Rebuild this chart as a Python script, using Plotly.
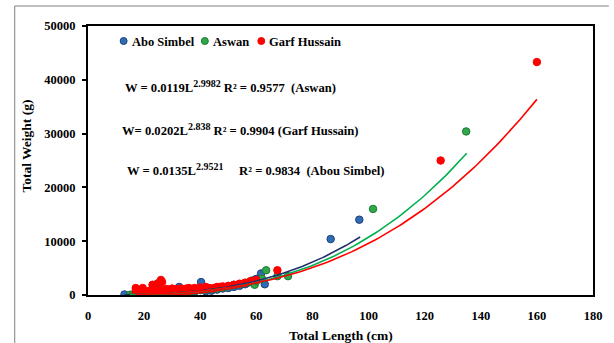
import numpy as np
import plotly.graph_objects as go

# ---------------- data ----------------
abo_len = [13, 16, 18, 20, 22, 24, 25, 26, 28, 30, 32.5, 34, 36, 38, 40.3, 42, 44, 46, 48, 50,
           52, 54, 56, 57, 58.6, 60, 61.7, 63, 86.5, 96.7]
abo_wt = [100, 80, 120, 150, 200, 250, 50, 300, 0, 350, 1500, 50, 500, 600, 2400, 700, 800, 1000, 1200, 1300,
          1500, 1700, 2000, 2300, 2700, 3000, 4000, 2000, 10400, 14000]

asw_len = [15, 16, 17, 18, 19, 20, 21, 22, 23, 24.4, 25, 26, 28, 30, 32, 34, 36, 38, 40, 42,
           44, 46, 48, 50, 52, 54, 56, 58, 59.4, 60, 62, 63.5, 67.5, 71.3, 101.6, 134.8]
asw_wt = [50, 100, 150, 100, 200, 150, 300, 250, 400, 2000, 300, 350, 400, 450, 500, 600, 650, 800, 900, 1000,
          1100, 1200, 1400, 1600, 1900, 2000, 2200, 2400, 1900, 2600, 3000, 4600, 3500, 3500, 16000, 30400]

garf_len = [17, 17, 17.5, 18, 18, 18.5, 19, 19, 19.5, 20, 20, 20.5, 21, 21, 22, 22, 22.5, 23, 23, 23.5,
            24, 24, 24.5, 25, 25, 25.5, 26, 26, 26.4, 27, 27, 28, 28, 29, 29, 30, 30, 31, 31, 32,
            32, 33, 33, 34, 34, 35, 35, 36, 36, 37, 38, 38, 39, 40, 40, 41, 42, 42, 43, 44,
            45, 46, 47, 48, 50, 52, 54, 56, 58, 60, 67.5, 125.7, 160]
garf_wt = [1300, 400, 200, 900, 100, 300, 600, 150, 1300, 200, 700, 300, 500, 100, 800, 250, 400, 1900, 300, 900,
           1600, 500, 200, 2200, 600, 1000, 2800, 700, 2400, 400, 900, 600, 1100, 500, 1000, 700, 1200, 600, 1000, 700,
           1100, 800, 1200, 700, 1100, 900, 1200, 800, 1300, 1000, 900, 1300, 1100, 1000, 1400, 1200, 1100, 1500, 1300, 1200,
           1300, 1500, 1500, 1600, 1700, 1900, 2100, 2300, 2600, 2800, 4600, 25000, 43300]

series_names = ["Abo Simbel", "Aswan", "Garf Hussain"]
fill_colors = ["#2E6DB4", "#2EA84A", "#FF0000"]
edge_colors = ["#1F3F7A", "#1E7A34", "#FF0000"]
line_colors = ["#1F2F6B", "#00B050", "#FF0000"]

# power-law trend lines W = a * L^b (a, b, fitted range) as drawn in the picture
trend_a = [0.0147, 0.0108, 0.0202]
trend_b = [2.9521, 2.9982, 2.838]
trend_from = [13, 15, 17]
trend_to = [97, 135, 160]

x_ticks = [0, 20, 40, 60, 80, 100, 120, 140, 160, 180]
y_ticks = [0, 10000, 20000, 30000, 40000, 50000]

FONT = "Liberation Serif"

fig = go.Figure()

lens = [abo_len, asw_len, garf_len]
wts = [abo_wt, asw_wt, garf_wt]
for i in range(3):
    fig.add_trace(go.Scatter(
        x=lens[i], y=wts[i], mode="markers", name=series_names[i],
        marker=dict(size=7.5, color=fill_colors[i], line=dict(color=edge_colors[i], width=1)),
        showlegend=False))

for i in range(3):
    xs = np.linspace(trend_from[i], trend_to[i], 120)
    ys = trend_a[i] * xs ** trend_b[i]
    fig.add_trace(go.Scatter(x=xs, y=ys, mode="lines", line=dict(color=line_colors[i], width=1.6),
                             showlegend=False, hoverinfo="skip"))

W, H = 614, 343
L_, R_, T_, B_ = 88, 598, 26, 295
def px(x):
    return (x - L_) / (R_ - L_)
def py(y):
    return (B_ - y) / (B_ - T_)

shapes = []
annotations = []
# outer frame (top & left)
shapes.append(dict(type="line", xref="paper", yref="paper", x0=px(14), y0=py(6), x1=px(614), y1=py(6),
                   line=dict(color="#7F7F7F", width=1)))
shapes.append(dict(type="line", xref="paper", yref="paper", x0=px(14), y0=py(6), x1=px(14), y1=py(343),
                   line=dict(color="#7F7F7F", width=1)))

# manual legend
leg_marker_x = [124, 206, 263]
leg_text_x = [130, 212, 269]
for i in range(3):
    cx, cy = leg_marker_x[i], 41
    shapes.append(dict(type="circle", xref="paper", yref="paper",
                       x0=px(cx - 3.5), x1=px(cx + 3.5), y0=py(cy + 3.5), y1=py(cy - 3.5),
                       fillcolor=fill_colors[i], line=dict(color=edge_colors[i], width=1)))
    annotations.append(dict(xref="paper", yref="paper", x=px(leg_text_x[i]), y=py(42), xanchor="left",
                            yanchor="middle", showarrow=False, text="<b>%s</b>" % series_names[i],
                            font=dict(family=FONT, size=12.5, color="black")))

SUP = '<sup><span style="font-size:10px">%s</span></sup>'
eqs = [
    ("<b>W = 0.0119L" + SUP % "2.9982" + " R² = 0.9577  (Aswan)</b>", 123, 86),
    ("<b>W= 0.0202L" + SUP % "2.838" + " R² = 0.9904 (Garf Hussain)</b>", 120, 129),
    ("<b>W = 0.0135L" + SUP % "2.9521" + "     R² = 0.9834  (Abou Simbel)</b>", 125, 169),
]
for t, x0, y0 in eqs:
    annotations.append(dict(xref="paper", yref="paper", x=px(x0), y=py(y0), xanchor="left", yanchor="middle",
                            showarrow=False, text=t, font=dict(family=FONT, size=12.6, color="black")))

# axis titles
annotations.append(dict(xref="paper", yref="paper", x=px(344), y=py(335), xanchor="center", yanchor="middle",
                        showarrow=False, text="<b>Total Length (cm)</b>",
                        font=dict(family=FONT, size=13.5, color="black")))
annotations.append(dict(xref="paper", yref="paper", x=px(25), y=py(146), xanchor="center", yanchor="middle",
                        showarrow=False, text="<b>Total Weight (g)</b>", textangle=-90,
                        font=dict(family=FONT, size=13.5, color="black")))

fig.update_layout(
    width=W, height=H,
    margin=dict(l=L_, r=W - R_, t=T_, b=H - B_),
    paper_bgcolor="white", plot_bgcolor="white",
    shapes=shapes, annotations=annotations,
    font=dict(family=FONT, color="black"),
    xaxis=dict(range=[0, 180], tickvals=x_ticks, ticktext=[str(v) for v in x_ticks],
               showgrid=False, zeroline=False, showline=True, linecolor="black", linewidth=2, mirror=True,
               ticks="", ticklabelstandoff=8, tickfont=dict(family=FONT, size=12.5, color="black", weight="bold")),
    yaxis=dict(range=[0, 50000], tickvals=y_ticks, ticktext=[str(v) for v in y_ticks],
               showgrid=False, zeroline=False, showline=True, linecolor="black", linewidth=2, mirror=True,
               ticks="outside", ticklen=4, tickwidth=1.5, tickcolor="black", ticklabelstandoff=4,
               tickfont=dict(family=FONT, size=12.5, color="black", weight="bold")),
)

fig.write_html("out.html", config={"displayModeBar": False},
               post_script="document.body.style.margin='0';document.body.style.overflow='hidden';")
